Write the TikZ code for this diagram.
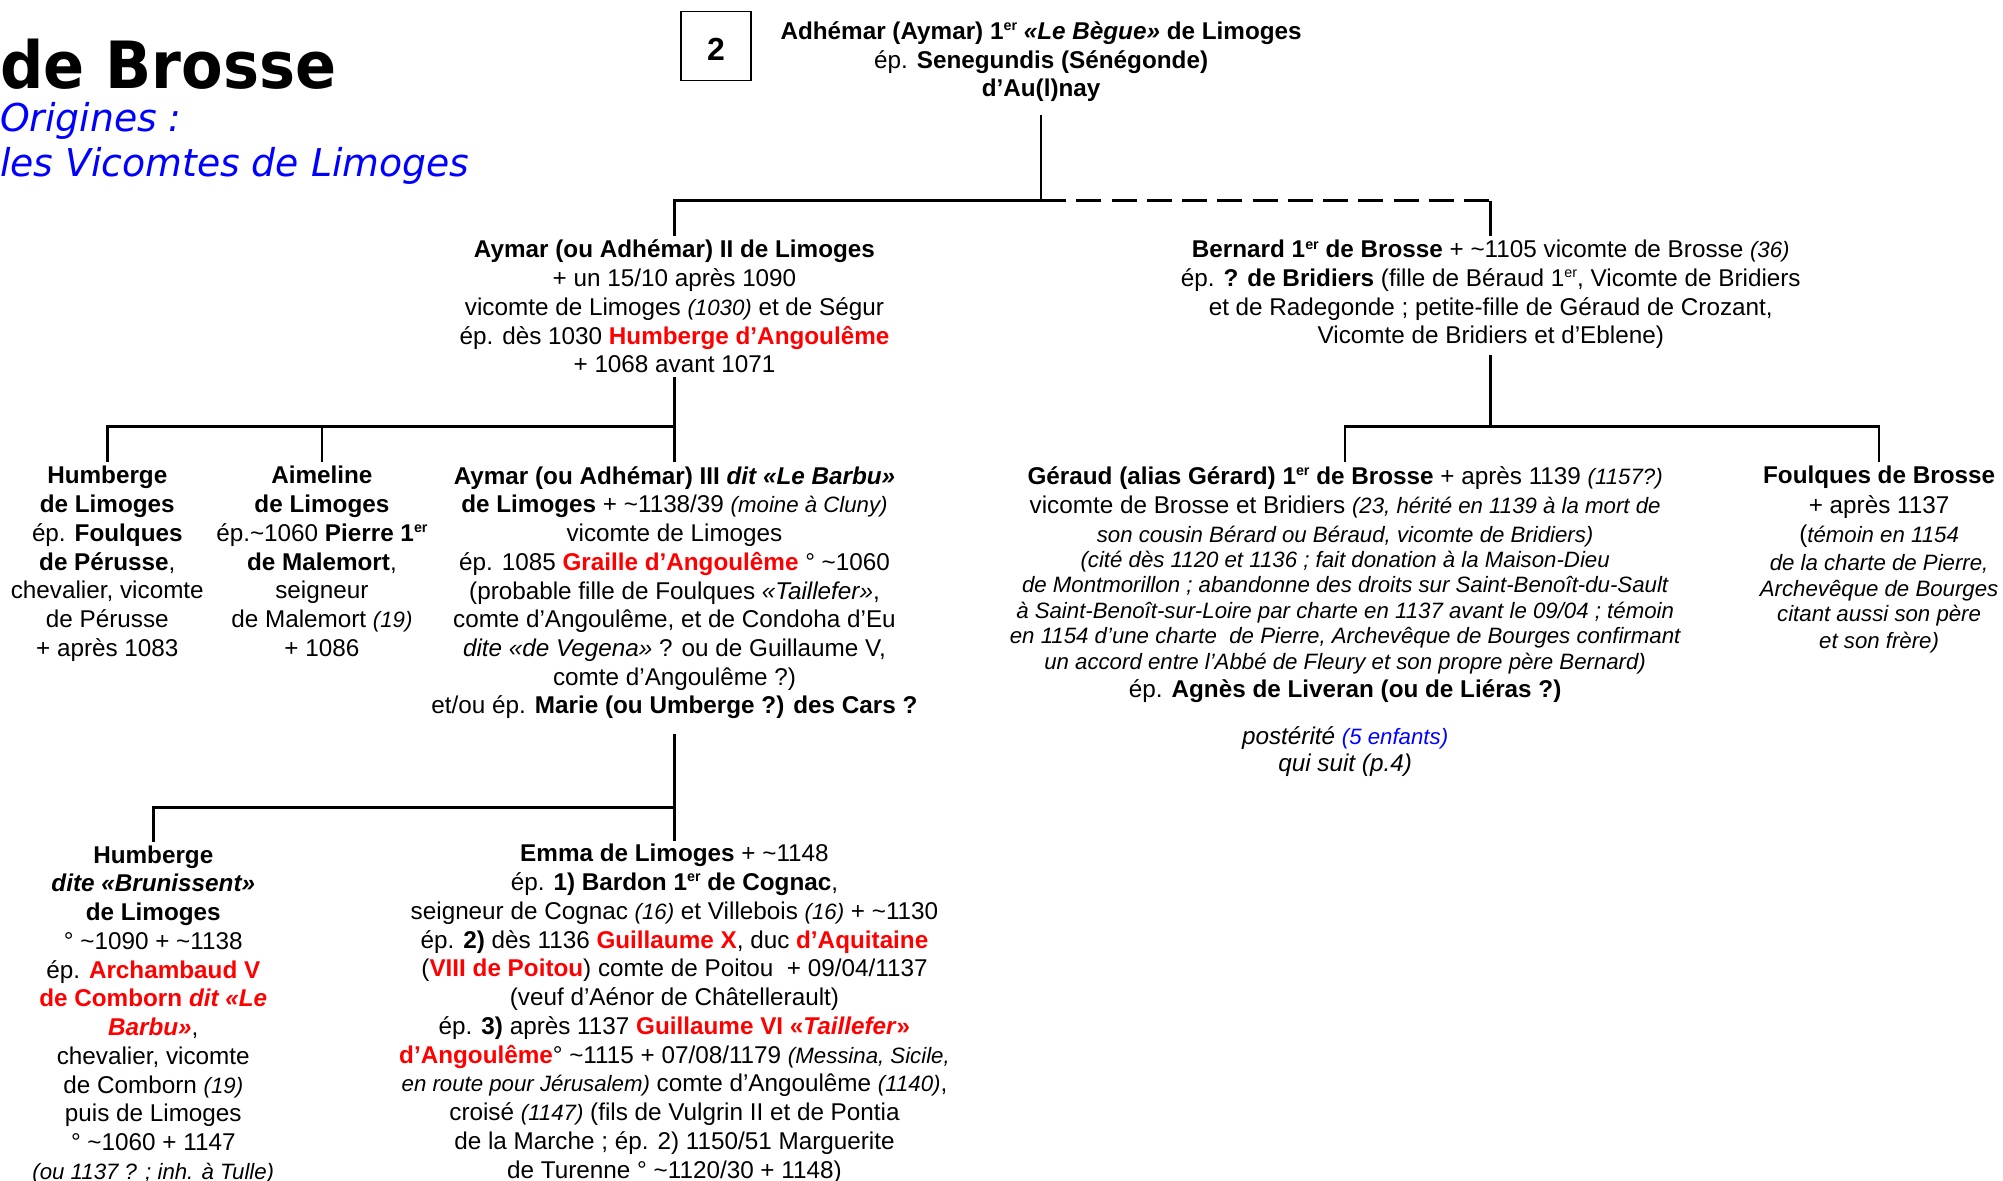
\documentclass[tikz,border=0pt]{standalone}
\usepackage{fontspec}
\setmainfont{Liberation Sans}
\newfontfamily\titlefont[FakeStretch=0.93]{DejaVu Sans}
\newfontfamily\subfont[FakeStretch=0.985]{DejaVu Sans}
\usepackage{xcolor}
\definecolor{rd}{RGB}{255,0,0}
\definecolor{bl}{RGB}{0,0,255}
\newcommand\tld{\textasciitilde}
\newcommand\rdb[1]{\textcolor{rd}{\bfseries #1}}
\newcommand\sm[1]{{\fontsize{8.7}{11.25}\selectfont\itshape #1}}
\newcommand\er{\raisebox{0.36em}{\fontsize{5.6}{6}\selectfont er}}
\begin{document}
\begin{tikzpicture}[x=0.5pt,y=-0.5pt,
 every node/.style={inner sep=0pt, outer sep=0pt},
 person/.style={align=center, anchor=north, font=\fontsize{9.5}{11.25}\selectfont},
 conn/.style={line width=1pt},
 dashconn/.style={line width=1pt, dash pattern=on 9.8pt off 4pt}]
\useasboundingbox (0,0) rectangle (1568,924.5);

% titles
\node[anchor=base west, font=\titlefont\bfseries\fontsize{25.5}{30}\selectfont] (title) at (0,69.5) {de Brosse};
\node[anchor=base west, font=\subfont\itshape\fontsize{15}{18}\selectfont, text=bl] (sub1) at (0,103) {Origines :};
\node[anchor=base west, font=\subfont\itshape\fontsize{15}{18}\selectfont, text=bl] (sub2) at (0,138.3) {les Vicomtes de Limoges};

% page number box
\node[draw, line width=0.6pt, minimum width=27.5pt, minimum height=27pt, text height=11pt, text depth=0pt,
 font=\fontsize{12.5}{15}\selectfont\bfseries] (num) at (560.5,36) {2};

% generation 1
\node[person] (top) at (815,17) {\textbf{Adhémar (Aymar) 1\er{} \textit{«Le Bègue»} de Limoges}\\
ép. \textbf{Senegundis (Sénégonde)}\\
\textbf{d’Au(l)nay}};

% generation 2
\node[person] (aymar2) at (528,188) {\textbf{Aymar (ou Adhémar) II de Limoges}\\
+ un 15/10 après 1090\\
vicomte de Limoges \sm{(1030)} et de Ségur\\
ép. dès 1030 \rdb{Humberge d’Angoulême}\\
+ 1068 avant 1071};

\node[person] (bernard) at (1167,188) {\textbf{Bernard 1\er{} de Brosse} + \tld1105 vicomte de Brosse \sm{(36)}\\
ép. \textbf{? de Bridiers} (fille de Béraud 1\er, Vicomte de Bridiers\\
et de Radegonde ; petite-fille de Géraud de Crozant,\\
Vicomte de Bridiers et d’Eblene)};

% generation 3
\node[person] (hum1) at (84,365) {\textbf{Humberge}\\\textbf{de Limoges}\\ép. \textbf{Foulques}\\\textbf{de Pérusse},\\chevalier, vicomte\\de Pérusse\\+ après 1083};

\node[person] (aime) at (252,365) {\textbf{Aimeline}\\\textbf{de Limoges}\\ép.\tld1060 \textbf{Pierre 1\er}\\\textbf{de Malemort},\\seigneur\\de Malemort \sm{(19)}\\+ 1086};

\node[person] (aymar3) at (528,365) {\textbf{Aymar (ou Adhémar) III \textit{dit «Le Barbu»}}\\
\textbf{de Limoges} + \tld1138/39 \sm{(moine à Cluny)}\\
vicomte de Limoges\\
ép. 1085 \rdb{Graille d’Angoulême} ° \tld1060\\
(probable fille de Foulques \textit{«Taillefer»},\\
comte d’Angoulême, et de Condoha d’Eu\\
\textit{dite «de Vegena»} ? ou de Guillaume V,\\
comte d’Angoulême ?)\\
et/ou ép. \textbf{Marie (ou Umberge ?) des Cars ?}};

\node[person] (geraud) at (1053,365) {\textbf{Géraud (alias Gérard) 1\er{} de Brosse} + après 1139 \sm{(1157?)}\\[0.25pt]
vicomte de Brosse et Bridiers \sm{(23, hérité en 1139 à la mort de}\\[0.25pt]
\sm{son cousin Bérard ou Béraud, vicomte de Bridiers)}\\[-1.75pt]
\sm{(cité dès 1120 et 1136 ; fait donation à la Maison-Dieu}\\[-1.25pt]
\sm{de Montmorillon ; abandonne des droits sur Saint-Benoît-du-Sault}\\[-1.25pt]
\sm{à Saint-Benoît-sur-Loire par charte en 1137 avant le 09/04 ; témoin}\\[-1.25pt]
\sm{en 1154 d’une charte\ \ de Pierre, Archevêque de Bourges confirmant}\\[-1.25pt]
\sm{un accord entre l’Abbé de Fleury et son propre père Bernard)}\\[-0.25pt]
ép. \textbf{Agnès de Liveran (ou de Liéras ?)}};

\node[person, font=\fontsize{9.5}{10.5}\selectfont\itshape] (post) at (1053,569) {postérité {\color{bl}\fontsize{8.7}{10.5}\selectfont(5 enfants)}\\qui suit (p.4)};

\node[person] (foulques) at (1471,365) {\textbf{Foulques de Brosse}\\[0.25pt]
+ après 1137\\[0.25pt]
(\sm{témoin en 1154}\\[-0.25pt]
\sm{de la charte de Pierre,}\\[-1.25pt]
\sm{Archevêque de Bourges}\\[-1.25pt]
\sm{citant aussi son père}\\[-0.75pt]
\sm{et son frère)}};

% generation 4
\node[person] (brun) at (120,662) {\textbf{Humberge}\\
\textbf{\textit{dite «Brunissent»}}\\
\textbf{de Limoges}\\
° \tld1090 + \tld1138\\
ép. \rdb{Archambaud V}\\
\rdb{de Comborn \textit{dit «Le}}\\
\rdb{\textit{Barbu»}},\\
chevalier, vicomte\\
de Comborn \sm{(19)}\\
puis de Limoges\\
° \tld1060 + 1147\\
\sm{(ou 1137 ? ; inh. à Tulle)}};

\node[person] (emma) at (528,661) {\textbf{Emma de Limoges} + \tld1148\\
ép. \textbf{1) Bardon 1\er{} de Cognac},\\
seigneur de Cognac \sm{(16)} et Villebois \sm{(16)} + \tld1130\\
ép. \textbf{2)} dès 1136 \rdb{Guillaume X}, duc \rdb{d’Aquitaine}\\
(\rdb{VIII de Poitou}) comte de Poitou\ \ + 09/04/1137\\
(veuf d’Aénor de Châtellerault)\\
ép. \textbf{3)} après 1137 \rdb{Guillaume VI «\textit{Taillefer}»}\\
\rdb{d’Angoulême}° \tld1115 + 07/08/1179 \sm{(Messina, Sicile,}\\
\sm{en route pour Jérusalem)} comte d’Angoulême \sm{(1140)},\\
croisé \sm{(1147)} (fils de Vulgrin II et de Pontia\\
de la Marche ; ép. 2) 1150/51 Marguerite\\
de Turenne ° \tld1120/30 + 1148)};

% connectors
\coordinate (jt) at (815,157);
\draw[conn, shorten <=5pt] (top.south) -- (jt);
\draw[conn, shorten >=1.5pt] (jt) -| (aymar2.north);
\draw[dashconn] (jt) -- (jt -| bernard.north);
\draw[conn, shorten >=1.5pt] (jt -| bernard.north) -- (bernard.north);

\coordinate (j2) at (528,334);
\draw[conn, shorten <=1.5pt, shorten >=1.5pt] (aymar2.south) -- (aymar3.north);
\draw[conn, shorten <=1.5pt] (hum1.north) |- (j2);
\draw[conn, shorten <=1.5pt] (aime.north) -- (aime.north |- j2);

\coordinate (j3) at (1167,334);
\draw[conn, shorten <=2.5pt] (bernard.south) -- (j3);
\draw[conn, shorten <=1.5pt, shorten >=1.5pt] (geraud.north) |- (j3) -| (foulques.north);

\coordinate (j4) at (528,632);
\draw[conn, shorten <=6pt, shorten >=1.5pt] (aymar3.south) -- (emma.north);
\draw[conn, shorten <=1.5pt] (brun.north) |- (j4);
\end{tikzpicture}
\end{document}
